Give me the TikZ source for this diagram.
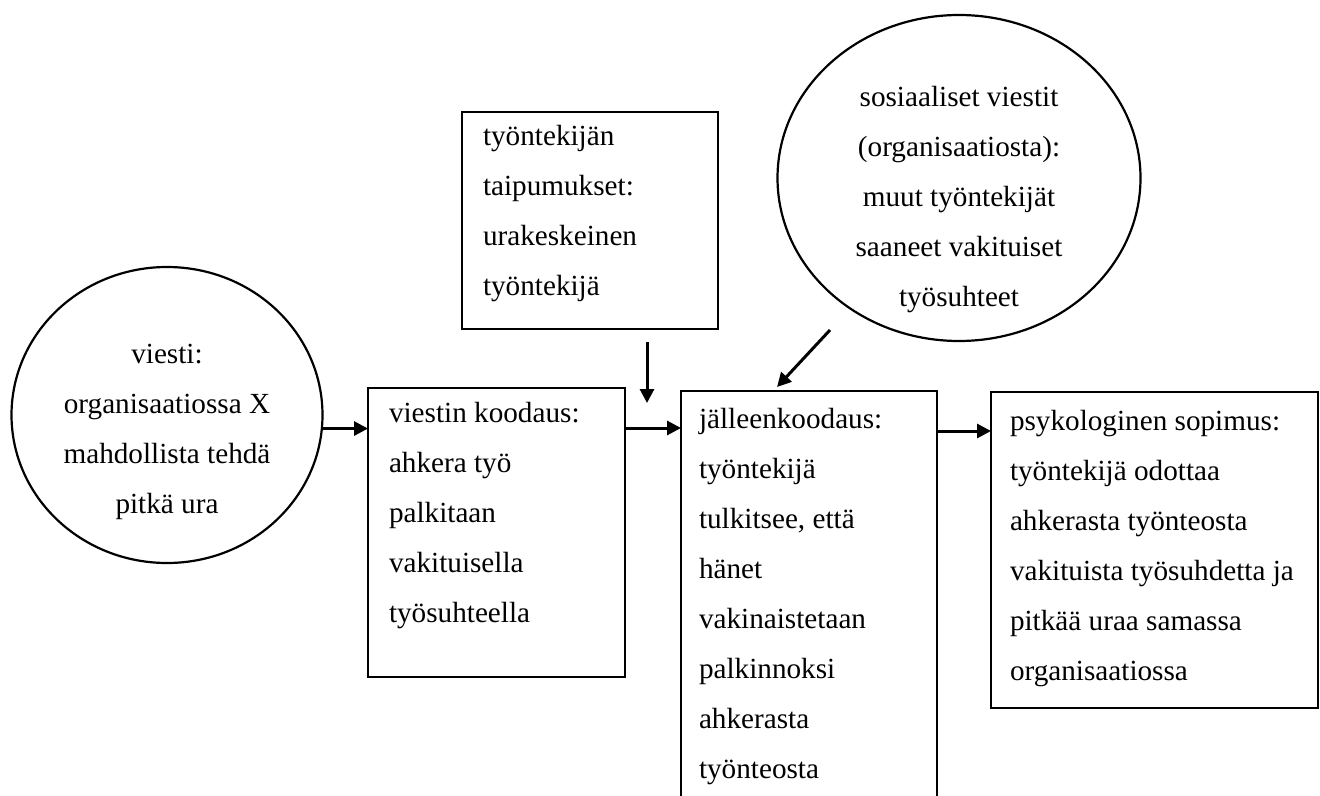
\documentclass[tikz,border=0pt]{standalone}
\usepackage{fontspec}
\setmainfont{Liberation Serif}
\usetikzlibrary{shapes.geometric,arrows.meta}
\begin{document}
\begin{tikzpicture}[x=0.5pt,y=-0.5pt,
  every node/.style={font=\fontsize{14.6pt}{25pt}\selectfont, inner sep=0pt, outer sep=0pt},
  box/.style={draw, line width=0.6pt, rectangle, anchor=north west, inner xsep=#1, inner ysep=0pt},
  oval/.style={draw, line width=1.1pt, ellipse, inner sep=0pt},
  arr/.style={line width=1.5pt, -{Triangle[length=7pt,width=7pt]}}]
\useasboundingbox (0,0) rectangle (1320,796);
\clip (0,0) rectangle (1320,796);

\node[oval, minimum width=155.5pt, minimum height=148pt] (circ) at (167,415)
  {\parbox[t][100pt][t]{108pt}{\centering\rule{0pt}{24pt}viesti:\\organisaatiossa~X\\mahdollista~tehdä\\pitkä~ura}};

\node[oval, minimum width=181.5pt, minimum height=163pt] (soc) at (959,178)
  {\parbox[t][110pt][t]{124pt}{\centering\rule{0pt}{19.5pt}sosiaaliset~viestit\\(organisaatiosta):\\muut~työntekijät\\saaneet~vakituiset\\työsuhteet}};

\node[box=10.5pt, minimum width=128pt, minimum height=108.5pt] (taip) at (462,112)
  {\parbox[t][108.5pt][t]{107pt}{\raggedright\rule{0pt}{17pt}työntekijän\\taipumukset:\\urakeskeinen\\työntekijä}};

\node[box=10.5pt, minimum width=128.5pt, minimum height=144.5pt] (viestin) at (368,388)
  {\parbox[t][144.5pt][t]{107.5pt}{\raggedright\rule{0pt}{17pt}viestin~koodaus:\\ahkera~työ\\palkitaan\\vakituisella\\työsuhteella}};

\node[box=9pt, minimum width=128pt, minimum height=209.5pt] (jall) at (681,391)
  {\parbox[t][209.5pt][t]{110pt}{\raggedright\rule{0pt}{18.5pt}jälleenkoodaus:\\työntekijä\\tulkitsee,~että\\hänet\\vakinaistetaan\\palkinnoksi\\ahkerasta\\työnteosta}};

\node[box=9.5pt, minimum width=163.5pt, minimum height=158pt] (psyk) at (991,392)
  {\parbox[t][158pt][t]{144.5pt}{\raggedright\rule{0pt}{19pt}psykologinen~sopimus:\\työntekijä~odottaa\\ahkerasta~työnteosta\\vakituista~työsuhdetta~ja\\pitkää~uraa~samassa\\organisaatiossa}};

\coordinate (ya) at (0,428);
\coordinate (yc) at (0,431);
\coordinate (vt) at (647,342);
\coordinate (vb) at (647,403);
\coordinate (ds) at (830,330);
\coordinate (de) at (777,387);

\draw[arr] (circ.-5.2) -- (circ.-5.2 -| viestin.west);
\draw[arr] (vt) -- (vb);
\draw[arr] (viestin.east |- ya) -- (jall.west |- ya);
\draw[arr] (ds) -- (de);
\draw[arr] (jall.east |- yc) -- (psyk.west |- yc);
\end{tikzpicture}
\end{document}
